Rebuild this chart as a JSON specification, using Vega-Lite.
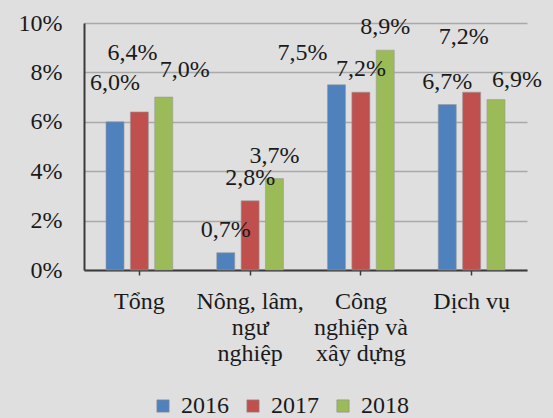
{
  "$schema": "https://vega.github.io/schema/vega-lite/v6.json",
  "width": 443,
  "height": 247,
  "autosize": {"type": "none"},
  "padding": {"left": 84, "top": 23, "right": 26, "bottom": 148},
  "background": "#dfdfdf",
  "config": {
    "view": {"stroke": null},
    "font": "'Liberation Serif', 'DejaVu Serif', serif",
    "locale": {"number": {"decimal": ",", "thousands": ".", "grouping": [3], "currency": ["", ""]}}
  },
  "data": {
    "values": [
      {"category": "Tổng", "year": "2016", "value": 0.060},
      {"category": "Tổng", "year": "2017", "value": 0.064},
      {"category": "Tổng", "year": "2018", "value": 0.070},
      {"category": "Nông, lâm, ngư nghiệp", "year": "2016", "value": 0.007},
      {"category": "Nông, lâm, ngư nghiệp", "year": "2017", "value": 0.028},
      {"category": "Nông, lâm, ngư nghiệp", "year": "2018", "value": 0.037},
      {"category": "Công nghiệp và xây dựng", "year": "2016", "value": 0.075},
      {"category": "Công nghiệp và xây dựng", "year": "2017", "value": 0.072},
      {"category": "Công nghiệp và xây dựng", "year": "2018", "value": 0.089},
      {"category": "Dịch vụ", "year": "2016", "value": 0.067},
      {"category": "Dịch vụ", "year": "2017", "value": 0.072},
      {"category": "Dịch vụ", "year": "2018", "value": 0.069}
    ]
  },
  "encoding": {
    "x": {
      "field": "category", "type": "nominal", "sort": null,
      "scale": {"paddingInner": 0.34, "paddingOuter": 0.17},
      "axis": {
        "title": null, "labelAngle": 0, "labelFontSize": 24, "labelFont": "'Liberation Serif', serif", "labelColor": "#1a1a1a",
        "labelLineHeight": 26, "labelBaseline": "top", "labelPadding": 14,
        "domainColor": "#3a3a3a", "domainWidth": 2, "tickColor": "#3a3a3a", "tickWidth": 1.5, "tickSize": 5,
        "labelExpr": "datum.value == 'Nông, lâm, ngư nghiệp' ? ['Nông, lâm,', 'ngư', 'nghiệp'] : datum.value == 'Công nghiệp và xây dựng' ? ['Công', 'nghiệp và', 'xây dựng'] : datum.value"
      }
    },
    "xOffset": {"field": "year", "type": "nominal", "scale": {"paddingInner": 0.26, "paddingOuter": 0.13}},
    "y": {
      "field": "value", "type": "quantitative",
      "scale": {"domain": [0, 0.1]},
      "axis": {
        "title": null, "format": ".0%", "values": [0, 0.02, 0.04, 0.06, 0.08, 0.1],
        "labelFontSize": 24, "labelFont": "'Liberation Serif', serif", "labelColor": "#1a1a1a", "labelPadding": 22, "ticks": false,
        "domainColor": "#3a3a3a", "domainWidth": 2,
        "gridColor": "#a9a9a9", "gridWidth": 1.5
      }
    }
  },
  "layer": [
    {
      "mark": {"type": "bar", "stroke": "#9a9a9a", "strokeWidth": 0.6},
      "encoding": {
        "color": {
          "field": "year", "type": "nominal",
          "scale": {"domain": ["2016", "2017", "2018"], "range": ["#4f81bd", "#c0504d", "#9bbb59"]},
          "legend": {
            "title": null, "orient": "none", "direction": "horizontal",
            "legendX": 67, "legendY": 371,
            "symbolType": "square", "symbolSize": 150, "symbolStrokeWidth": 0.6, "symbolStrokeColor": "#8a8a8a",
            "labelFont": "'Liberation Serif', serif", "labelFontSize": 24, "labelColor": "#1a1a1a", "labelOffset": 6, "columnPadding": 12
          }
        }
      }
    },
    {
      "mark": {
        "type": "text", "fontSize": 24, "font": "'Liberation Serif', serif", "color": "#1a1a1a", "baseline": "middle",
        "dx": {"expr": "datum.category == 'Tổng' ? (datum.year == '2017' ? -7 : datum.year == '2018' ? 21 : 0) : datum.category == 'Công nghiệp và xây dựng' && datum.year == '2016' ? -34 : datum.category == 'Dịch vụ' ? (datum.year == '2017' ? -8 : datum.year == '2018' ? 21 : 0) : 0"},
        "dy": {"expr": "datum.category == 'Tổng' ? (datum.year == '2016' ? -39 : datum.year == '2017' ? -59 : -27) : datum.category == 'Công nghiệp và xây dựng' && datum.year == '2016' ? -32 : datum.category == 'Dịch vụ' ? (datum.year == '2017' ? -55 : datum.year == '2018' ? -20 : -23) : -23"}
      },
      "encoding": {
        "text": {"field": "value", "type": "quantitative", "format": ".1%"}
      }
    }
  ]
}
